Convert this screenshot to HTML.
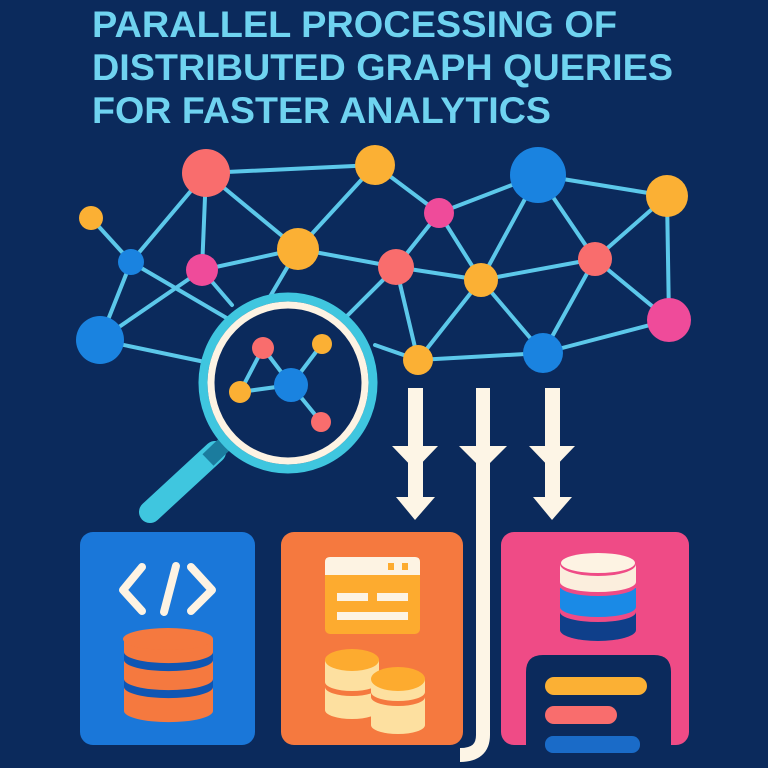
<!DOCTYPE html>
<html><head><meta charset="utf-8"><style>
html,body{margin:0;padding:0;background:#0b2a5c;}
svg{display:block}
</style></head><body>
<svg width="768" height="768" viewBox="0 0 768 768" xmlns="http://www.w3.org/2000/svg">
<rect width="768" height="768" fill="#0b2a5c"/>
<g font-family="Liberation Sans, sans-serif" font-weight="bold" font-size="37" fill="#6fd3f0">
<text x="92" y="37" textLength="525" lengthAdjust="spacingAndGlyphs">PARALLEL PROCESSING OF</text>
<text x="92" y="80" textLength="581" lengthAdjust="spacingAndGlyphs">DISTRIBUTED GRAPH QUERIES</text>
<text x="92" y="123" textLength="459" lengthAdjust="spacingAndGlyphs">FOR FASTER ANALYTICS</text>
</g>
<g stroke="#5cc8ea" stroke-width="4" stroke-linecap="round">
<line x1="206" y1="173" x2="375" y2="165"/>
<line x1="206" y1="173" x2="131" y2="262"/>
<line x1="206" y1="173" x2="202" y2="270"/>
<line x1="206" y1="173" x2="298" y2="249"/>
<line x1="375" y1="165" x2="298" y2="249"/>
<line x1="375" y1="165" x2="439" y2="213"/>
<line x1="91" y1="218" x2="131" y2="262"/>
<line x1="131" y1="262" x2="100" y2="340"/>
<line x1="131" y1="262" x2="230" y2="320"/>
<line x1="202" y1="270" x2="298" y2="249"/>
<line x1="202" y1="270" x2="100" y2="340"/>
<line x1="202" y1="270" x2="232" y2="305"/>
<line x1="298" y1="249" x2="396" y2="267"/>
<line x1="298" y1="249" x2="268" y2="300"/>
<line x1="439" y1="213" x2="538" y2="175"/>
<line x1="439" y1="213" x2="396" y2="267"/>
<line x1="439" y1="213" x2="481" y2="280"/>
<line x1="538" y1="175" x2="481" y2="280"/>
<line x1="538" y1="175" x2="595" y2="259"/>
<line x1="538" y1="175" x2="667" y2="196"/>
<line x1="667" y1="196" x2="595" y2="259"/>
<line x1="667" y1="196" x2="669" y2="320"/>
<line x1="396" y1="267" x2="481" y2="280"/>
<line x1="396" y1="267" x2="418" y2="360"/>
<line x1="396" y1="267" x2="345" y2="318"/>
<line x1="481" y1="280" x2="595" y2="259"/>
<line x1="481" y1="280" x2="418" y2="360"/>
<line x1="481" y1="280" x2="543" y2="353"/>
<line x1="595" y1="259" x2="543" y2="353"/>
<line x1="595" y1="259" x2="669" y2="320"/>
<line x1="669" y1="320" x2="543" y2="353"/>
<line x1="418" y1="360" x2="543" y2="353"/>
<line x1="418" y1="360" x2="375" y2="345"/>
<line x1="100" y1="340" x2="205" y2="362"/>
</g>
<g>
<circle cx="206" cy="173" r="24" fill="#f96d6d"/>
<circle cx="375" cy="165" r="20" fill="#fbb034"/>
<circle cx="538" cy="175" r="28" fill="#1a83e0"/>
<circle cx="667" cy="196" r="21" fill="#fbb034"/>
<circle cx="91" cy="218" r="12" fill="#fbb034"/>
<circle cx="131" cy="262" r="13" fill="#1a83e0"/>
<circle cx="202" cy="270" r="16" fill="#ef4b9a"/>
<circle cx="298" cy="249" r="21" fill="#fbb034"/>
<circle cx="439" cy="213" r="15" fill="#ef4b9a"/>
<circle cx="396" cy="267" r="18" fill="#f96d6d"/>
<circle cx="481" cy="280" r="17" fill="#fbb034"/>
<circle cx="595" cy="259" r="17" fill="#f96d6d"/>
<circle cx="100" cy="340" r="24" fill="#1a83e0"/>
<circle cx="669" cy="320" r="22" fill="#ef4b9a"/>
<circle cx="418" cy="360" r="15" fill="#fbb034"/>
<circle cx="543" cy="353" r="20" fill="#1a83e0"/>
</g>
<!-- magnifier -->
<line x1="215" y1="452" x2="150" y2="512" stroke="#3fc6df" stroke-width="22" stroke-linecap="round"/>
<line x1="232" y1="437" x2="208" y2="460" stroke="#1b7c9e" stroke-width="16"/>
<ellipse cx="288" cy="383" rx="85" ry="86" fill="#0b2a5c" stroke="#3fc6df" stroke-width="9"/>
<ellipse cx="288" cy="383" rx="77" ry="78" fill="none" stroke="#fdf3e3" stroke-width="7"/>
<g stroke="#5cc8ea" stroke-width="4">
<line x1="263" y1="348" x2="240" y2="392"/>
<line x1="263" y1="348" x2="291" y2="385"/>
<line x1="322" y1="344" x2="291" y2="385"/>
<line x1="240" y1="392" x2="291" y2="385"/>
<line x1="291" y1="385" x2="321" y2="422"/>
</g>
<circle cx="263" cy="348" r="11" fill="#f96d6d"/>
<circle cx="322" cy="344" r="10" fill="#fbb034"/>
<circle cx="291" cy="385" r="17" fill="#1a83e0"/>
<circle cx="240" cy="392" r="11" fill="#fbb034"/>
<circle cx="321" cy="422" r="10" fill="#f96d6d"/>
<!-- arrows -->
<g fill="#fdf5e6">
<rect x="408" y="388" width="15" height="115"/>
<polygon points="392,446 438,446 415,470"/>
<polygon points="396,497 435,497 415,520"/>
<rect x="545" y="388" width="15" height="115"/>
<polygon points="529,446 575,446 552,470"/>
<polygon points="533,497 572,497 552,520"/>
<polygon points="459,446 507,446 483,470"/>
</g>
<path d="M483,388 V735 Q483,755 460,755" fill="none" stroke="#fdf5e6" stroke-width="14"/>
<!-- boxes -->
<rect x="80" y="532" width="175" height="213" rx="13" fill="#1a77d9"/>
<rect x="281" y="532" width="182" height="213" rx="13" fill="#f5793f"/>
<rect x="501" y="532" width="188" height="213" rx="13" fill="#ef4b86"/>
<path d="M526,768 V672 Q526,655 543,655 H654 Q671,655 671,672 V768 Z" fill="#0b2a5c"/>
<rect x="545" y="677" width="102" height="18" rx="9" fill="#fbb034"/>
<rect x="545" y="706" width="72" height="18" rx="9" fill="#f96d6d"/>
<rect x="545" y="736" width="95" height="17" rx="8" fill="#1a6bc8"/>
<!-- code icon -->
<g stroke="#fdf3e3" stroke-width="8" stroke-linecap="round" stroke-linejoin="round" fill="none">
<polyline points="142,567 123,590 142,611"/>
<polyline points="191,567 212,590 191,611"/>
<line x1="176" y1="566" x2="164" y2="612"/>
</g>
<!-- blue box DB -->
<path d="M124,639 V711 A44,11 0 0 0 213,711 V639 Z" fill="#f5793f"/>
<ellipse cx="168" cy="639" rx="45" ry="11" fill="#f5793f"/>
<path d="M124,652 A44,11 0 0 0 213,652 V660 A44,11 0 0 1 124,660 Z" fill="#0f56b3"/>
<path d="M124,679 A44,11 0 0 0 213,679 V687 A44,11 0 0 1 124,687 Z" fill="#0f56b3"/>
<!-- window icon -->
<rect x="325" y="557" width="95" height="77" rx="5" fill="#fdab2f"/>
<path d="M325,575 V562 Q325,557 330,557 H415 Q420,557 420,562 V575 Z" fill="#fdf3e3"/>
<rect x="388" y="563" width="6" height="7" fill="#fdab2f"/>
<rect x="402" y="563" width="6" height="7" fill="#fdab2f"/>
<rect x="337" y="593" width="31" height="8" fill="#fdf3e3"/>
<rect x="377" y="593" width="31" height="8" fill="#fdf3e3"/>
<rect x="337" y="612" width="71" height="8" fill="#fdf3e3"/>
<!-- coins -->
<path d="M325,660 V710 A27,9 0 0 0 379,710 V660 Z" fill="#fde0a0"/>
<path d="M325,682 A27,9 0 0 0 379,682 V687 A27,9 0 0 1 325,687 Z" fill="#f5793f"/>
<ellipse cx="352" cy="660" rx="27" ry="11" fill="#fdab2f"/>
<path d="M371,679 V725 A27,9 0 0 0 425,725 V679 Z" fill="#fde0a0"/>
<path d="M371,692 A27,9 0 0 0 425,692 V697 A27,9 0 0 1 371,697 Z" fill="#f5793f"/>
<ellipse cx="398" cy="679" rx="27" ry="12" fill="#fdab2f"/>
<!-- pink DB -->
<path d="M560,620 V630 A38,11 0 0 0 636,630 V620 Z" fill="#0f3f8a"/>
<rect x="560" y="610" width="76" height="20" fill="#0f3f8a"/>
<path d="M560,590 V612 A38,10 0 0 0 636,612 V590 Z" fill="#ef4b86"/>
<path d="M560,588 V607 A38,10 0 0 0 636,607 V588 Z" fill="#1a8ae6"/>
<path d="M560,564 V586 A38,10 0 0 0 636,586 V564 Z" fill="#ef4b86"/>
<path d="M560,564 V582 A38,10 0 0 0 636,582 V564 Z" fill="#fbeedd"/>
<ellipse cx="598" cy="564" rx="38" ry="12" fill="#ef4b86"/>
<ellipse cx="598" cy="563" rx="37" ry="10" fill="#fdf3e3"/>
</svg>
</body></html>
